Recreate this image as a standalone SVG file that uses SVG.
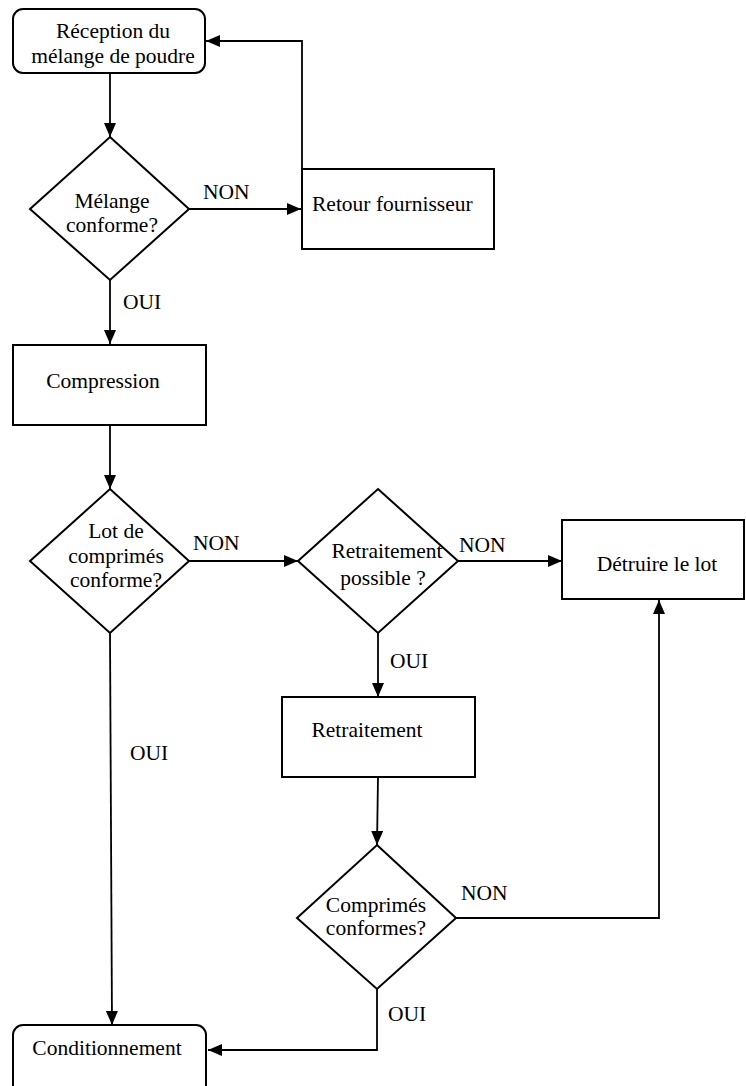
<svg xmlns="http://www.w3.org/2000/svg" width="746" height="1086" viewBox="0 0 746 1086" font-family="'Liberation Serif', 'Times New Roman', Tinos, 'DejaVu Serif', serif">
<style>
.box{fill:#fff;stroke:#000;stroke-width:2}
.c{fill:none;stroke:#000;stroke-width:1.8}
text{font-family:'Liberation Serif','Times New Roman',Tinos,'DejaVu Serif',serif;font-size:21.5px;fill:#000}
.m{text-anchor:middle}
</style>
<defs>
<marker id="ah" viewBox="0 0 14 12" refX="14" refY="6" markerWidth="14" markerHeight="12" markerUnits="userSpaceOnUse" orient="auto">
<path d="M0,0 L14,6 L0,12 Z" fill="#000"/>
</marker>
</defs>
<rect width="746" height="1086" fill="#fff"/>
<g id="connectors">
<line class="c" x1="110" y1="73" x2="110" y2="137" marker-end="url(#ah)"/>
<line class="c" x1="189" y1="209" x2="301" y2="209" marker-end="url(#ah)"/>
<polyline class="c" points="302,169 302,41 206,41" marker-end="url(#ah)"/>
<line class="c" x1="110" y1="280" x2="110" y2="344" marker-end="url(#ah)"/>
<line class="c" x1="110" y1="425" x2="110" y2="489" marker-end="url(#ah)"/>
<line class="c" x1="189" y1="561" x2="298" y2="561" marker-end="url(#ah)"/>
<line class="c" x1="458" y1="561" x2="562" y2="561" marker-end="url(#ah)"/>
<line class="c" x1="378" y1="633" x2="378" y2="697" marker-end="url(#ah)"/>
<line class="c" x1="378" y1="777" x2="377" y2="845" marker-end="url(#ah)"/>
<polyline class="c" points="456,918 659,918 659,600" marker-end="url(#ah)"/>
<line class="c" x1="110" y1="633" x2="112" y2="1025" marker-end="url(#ah)"/>
<polyline class="c" points="377,989 377,1050 208,1050" marker-end="url(#ah)"/>
<text x="203" y="199">NON</text>
<text x="123" y="309">OUI</text>
<text x="193" y="550">NON</text>
<text x="459" y="552">NON</text>
<text x="390" y="668">OUI</text>
<text x="130" y="760">OUI</text>
<text x="461" y="900">NON</text>
<text x="388" y="1021">OUI</text>
</g>
<g id="reception">
<rect class="box" x="13" y="9" width="192" height="64" rx="10"/>
<text class="m" x="113" y="38">Réception du</text>
<text class="m" x="113" y="63">mélange de poudre</text>
</g>
<g id="melange-conforme">
<polygon class="box" points="110,137 189,209 110,280 30,209"/>
<text class="m" x="112" y="208">Mélange</text>
<text class="m" x="112" y="232">conforme?</text>
</g>
<g id="retour-fournisseur">
<rect class="box" x="302" y="169" width="192" height="80"/>
<text x="312" y="211">Retour fournisseur</text>
</g>
<g id="compression">
<rect class="box" x="13" y="345" width="193" height="80"/>
<text class="m" x="103" y="388">Compression</text>
</g>
<g id="lot-conforme">
<polygon class="box" points="110,489 189,561 110,633 30,561"/>
<text class="m" x="116" y="538">Lot de</text>
<text class="m" x="116" y="563">comprimés</text>
<text class="m" x="116" y="587">conforme?</text>
</g>
<g id="retraitement-possible">
<polygon class="box" points="378,489 458,561 378,633 298,561"/>
<text class="m" x="387" y="558">Retraitement</text>
<text class="m" x="383" y="585">possible ?</text>
</g>
<g id="detruire">
<rect class="box" x="562" y="520" width="182" height="79"/>
<text class="m" x="657" y="571">Détruire le lot</text>
</g>
<g id="retraitement">
<rect class="box" x="282" y="697" width="193" height="80"/>
<text class="m" x="367" y="737">Retraitement</text>
</g>
<g id="comprimes-conformes">
<polygon class="box" points="377,845 456,918 377,989 297,918"/>
<text class="m" x="376" y="912">Comprimés</text>
<text class="m" x="376" y="935">conformes?</text>
</g>
<g id="conditionnement">
<rect class="box" x="13" y="1025" width="193" height="75" rx="10"/>
<text class="m" x="107" y="1055">Conditionnement</text>
</g>
</svg>
